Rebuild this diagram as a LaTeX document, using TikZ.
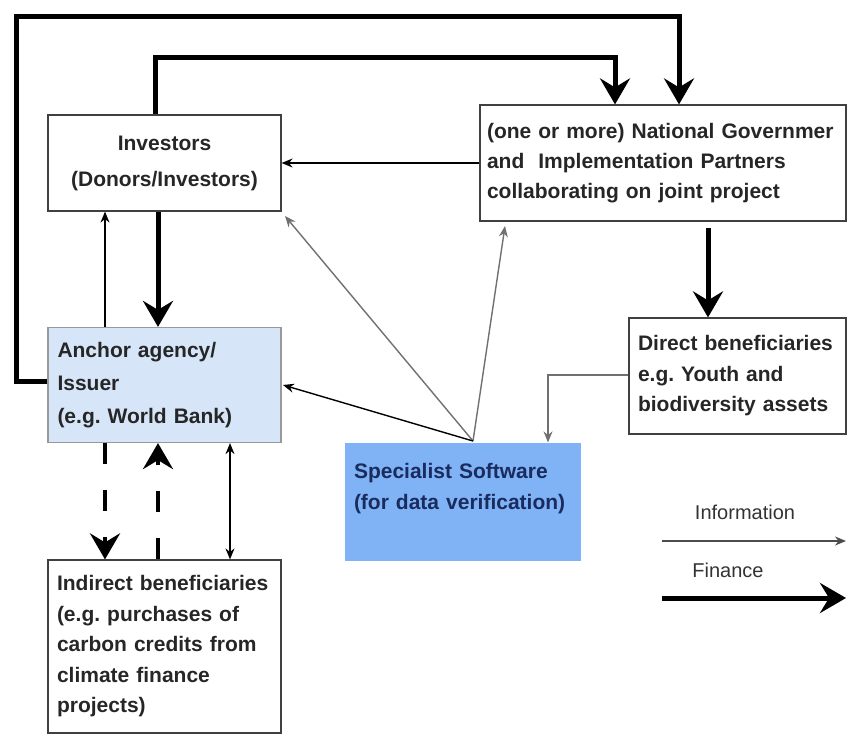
\documentclass[tikz,border=0pt]{standalone}
\usepackage{fontspec}
\setmainfont{Liberation Sans}
\usetikzlibrary{arrows.meta,calc}
\frenchspacing
\definecolor{anchorfill}{HTML}{D6E6F8}
\definecolor{softfill}{HTML}{80B3F5}
\definecolor{softtext}{HTML}{1A2B5E}
\definecolor{infogray}{HTML}{707070}
\tikzset{
  x=1pt,y=-1pt,
  boxbase/.style={draw=black!75,line width=1.2pt,rectangle,inner ysep=0pt,align=left,
    font=\bfseries\fontsize{21}{31}\selectfont,text=black!85},
  finance/.style={line width=5pt,-{Stealth[length=26pt,width=30pt,inset=9pt]}},
  financedash/.style={line width=4.5pt,dash pattern=on 21pt off 26pt,-{Stealth[length=26pt,width=30pt,inset=9pt]}},
  info/.style={line width=1.4pt,-{Stealth[length=11pt,width=9pt]}},
  infogr/.style={line width=1.4pt,draw=infogray,-{Stealth[length=11pt,width=9pt]}},
  legendtext/.style={font=\fontsize{20}{24}\selectfont,text=black!80,inner sep=0pt}
}
\begin{document}
\begin{tikzpicture}
\useasboundingbox (0,0) rectangle (850,735);
% boxes
\node[boxbase,minimum width=233pt,minimum height=96pt,text width=213pt,inner xsep=10pt,align=center,font=\bfseries\fontsize{21}{36}\selectfont] (inv) at (164.5,163) {Investors\\(Donors/Investors)};
\node[boxbase,fill=anchorfill,draw=black!40,minimum width=233pt,minimum height=115pt,text width=214pt,inner xsep=9.5pt,font=\bfseries\fontsize{21}{33}\selectfont] (anc) at (164.5,385) {Anchor agency/\\Issuer\\(e.g. World Bank)};
\node[boxbase,minimum width=233pt,minimum height=173pt,text width=215pt,inner xsep=9pt,font=\bfseries\fontsize{21}{30.5}\selectfont] (ind) at (164.5,646.5) {Indirect beneficiaries\\(e.g. purchases of\\carbon credits from\\climate finance\\projects)};
\node[boxbase,minimum width=366pt,minimum height=116pt,text width=352pt,inner xsep=7pt,font=\bfseries\fontsize{21}{30}\selectfont] (gov) at (663,163) {(one or more) National Governmer\\and\ \ Implementation Partners\\collaborating on joint project};
\node[boxbase,minimum width=217pt,minimum height=116pt,text width=199pt,inner xsep=9pt,font=\bfseries\fontsize{21}{30.5}\selectfont] (dir) at (737.5,376) {Direct beneficiaries\\e.g. Youth and\\biodiversity assets};
\node[boxbase,draw=none,fill=softfill,text=softtext,minimum width=236pt,minimum height=118pt,text width=218pt,inner xsep=9pt,font=\bfseries\fontsize{21}{31}\selectfont] (soft) at (463,502) {Specialist Software\\(for data verification)\\\mbox{}};
% helper coordinates
\coordinate (cA) at (16,17);
\coordinate (cB) at (679,17);
\coordinate (cC) at (155,58);
\coordinate (cD) at (615,58);
\coordinate (xL) at (105,0);
\coordinate (xM) at (158,0);
\coordinate (xR) at (230,0);
\coordinate (xG) at (708,0);
\coordinate (hub) at (473,441);
\coordinate (yT) at (0,375);
\coordinate (xS) at (548,0);
% finance loops
\draw[finance] (anc.west |- 0,381) -- (cA |- 0,381) -- (cA) -- (cB) -- (cB |- gov.north);
\draw[finance] (inv.north -| cC) -- (cC) -- (cD) -- (cD |- gov.north);
\draw[finance] (inv.south -| xM) -- (anc.north -| xM);
\draw[finance] (gov.south -| xG) ++(0,6) -- (dir.north -| xG);
% info
\draw[info] (anc.north -| xL) -- (inv.south -| xL);
\draw[info] (gov.west |- 0,163) -- (inv.east |- 0,163);
\draw[infogr] (hub) -- (285,216);
\draw[infogr] (hub) -- (505,226);
\draw[info] (hub) -- (283,385);
\draw[infogr] (dir.west |- yT) -- (xS |- yT) -- (soft.north -| xS);
\draw[info,{Stealth[length=11pt,width=9pt]}-{Stealth[length=11pt,width=9pt]}] (anc.south -| xR) -- (ind.north -| xR);
% dashed finance
\draw[financedash] (anc.south -| xL) -- (ind.north -| xL);
\draw[financedash] (ind.north -| xM) -- (anc.south -| xM);
% legend
\coordinate (l1) at (662,541);
\coordinate (l2) at (846,541);
\coordinate (l3) at (662,598);
\coordinate (l4) at (846,598);
\draw[info,draw=black!70] (l1) -- (l2);
\draw[finance] (l3) -- (l4);
\node[legendtext] (tinfo) at (745,512) {Information};
\node[legendtext] (tfin) at (728,570) {Finance};
\end{tikzpicture}
\end{document}
